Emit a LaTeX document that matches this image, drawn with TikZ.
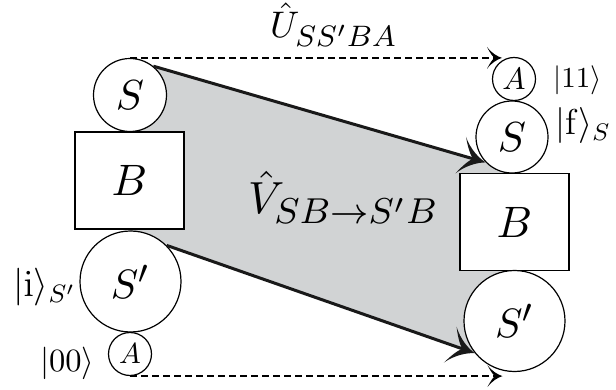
\documentclass[tikz,border=0pt]{standalone}
\usetikzlibrary{arrows.meta,calc}
\DeclareMathSizes{10}{10}{8}{6}
\definecolor{fillgray}{RGB}{209,211,212}
\pgfdeclarelayer{background}
\pgfsetlayers{background,main}
\newcommand\mt[2]{\scalebox{#1}{$#2$}}
\newcommand\mtb[2]{\scalebox{#1}{\fontsize{12}{14}\selectfont$#2$}}
\pgfdeclarearrow{
  name = Barb,
  parameters = {\the\pgfarrowlength,\the\pgfarrowwidth},
  setup code = {
    \pgfarrowssettipend{0pt}
    \pgfarrowssetlineend{-.4\pgfarrowlength}
    \pgfarrowssetbackend{-\pgfarrowlength}
    \pgfarrowssavethe\pgfarrowlength
    \pgfarrowssavethe\pgfarrowwidth
  },
  drawing code = {
    \pgfpathmoveto{\pgfpointorigin}
    \pgfpathcurveto{\pgfpoint{-.3\pgfarrowlength}{.06\pgfarrowwidth}}{\pgfpoint{-.7\pgfarrowlength}{.22\pgfarrowwidth}}{\pgfpoint{-\pgfarrowlength}{.5\pgfarrowwidth}}
    \pgfpathcurveto{\pgfpoint{-.75\pgfarrowlength}{.16\pgfarrowwidth}}{\pgfpoint{-.6\pgfarrowlength}{.05\pgfarrowwidth}}{\pgfpoint{-.5\pgfarrowlength}{0pt}}
    \pgfpathcurveto{\pgfpoint{-.6\pgfarrowlength}{-.05\pgfarrowwidth}}{\pgfpoint{-.75\pgfarrowlength}{-.16\pgfarrowwidth}}{\pgfpoint{-\pgfarrowlength}{-.5\pgfarrowwidth}}
    \pgfpathcurveto{\pgfpoint{-.7\pgfarrowlength}{-.22\pgfarrowwidth}}{\pgfpoint{-.3\pgfarrowlength}{-.06\pgfarrowwidth}}{\pgfpointorigin}
    \pgfpathclose
    \pgfusepathqfill
  },
  defaults = {length=20pt, width=30pt}
}
\tikzset{
  circ/.style={circle, draw, line width=1.2pt, fill=white, inner sep=0pt, minimum size=#1},
  boxnode/.style={rectangle, draw, fill=white, line width=1.2pt, minimum width=109pt, minimum height=97pt, inner sep=0pt},
  bigarrow/.style={line width=3pt, draw=black!90, -{Barb[length=26pt,width=38pt]}},
  dasharrow/.style={line width=2pt, dash pattern=on 7pt off 4pt, -{Barb[length=15pt,width=22pt]}},
  lbl/.style={anchor=base west, inner sep=0pt}
}
\begin{document}
\begin{tikzpicture}[x=1pt, y=-1pt]
\useasboundingbox (0,0) rectangle (616,390);
% left column
\node[circ=73pt] (S1) at (130,95) {\mt{4.2}{S}};
\node[boxnode] (B1) at (129.5,180.5) {\mt{4.4}{B}};
\node[circ=101pt] (Sp1) at (130.5,281.5) {\mt{4.1}{S'}};
\node[circ=43pt] (A1) at (130,354) {\mt{2.9}{A}};
% right column
\node[circ=43pt] (A2) at (514,79) {\mt{3.1}{A}};
\node[circ=72pt] (S2) at (512,137) {\mt{4.2}{S}};
\node[boxnode] (B2) at (514.5,222) {\mt{4.4}{B}};
\node[circ=101pt] (Sp2) at (514.5,321) {\mt{4.1}{S'}};
% gray band
\begin{pgfonlayer}{background}
\fill[fillgray] (S1.51) -- (S2.224) -- (S2.center) -- (Sp2.center) -- (Sp2.219) -- (Sp1.45) -- (Sp1.center) -- (S1.center) -- cycle;
\end{pgfonlayer}
% thick arrows
\draw[bigarrow] (S1.51) -- (S2.224);
\draw[bigarrow] (Sp1.45) -- (Sp2.219);
% dashed arrows
\coordinate (Uend) at ($(A2.north)+(-12,0)$);
\coordinate (Lend) at ($(Sp2.south)+(-12,0)$);
\draw[dasharrow] (S1.north) -- (S1.north -| Uend);
\draw[dasharrow] (A1.south) -- (A1.south -| Lend);
% labels
\node[lbl] (U) at (270,38) {\mt{3.7}{\hat U_{SS'BA}}};
\node[lbl] (V) at (248,214) {\mt{4.5}{\hat V_{SB\to S'B}}};
\node[lbl] (L11) at (553,88) {\mt{2.9}{|11\rangle}};
\node[lbl] (Lf) at (555,135) {\mtb{3.0}{|\mathrm{f}\rangle_S}};
\node[lbl] (Li) at (13,297) {\mtb{3.15}{|\mathrm{i}\rangle_{S'}}};
\node[lbl] (L00) at (40,371.5) {\mt{3.25}{|00\rangle}};
\end{tikzpicture}
\end{document}
